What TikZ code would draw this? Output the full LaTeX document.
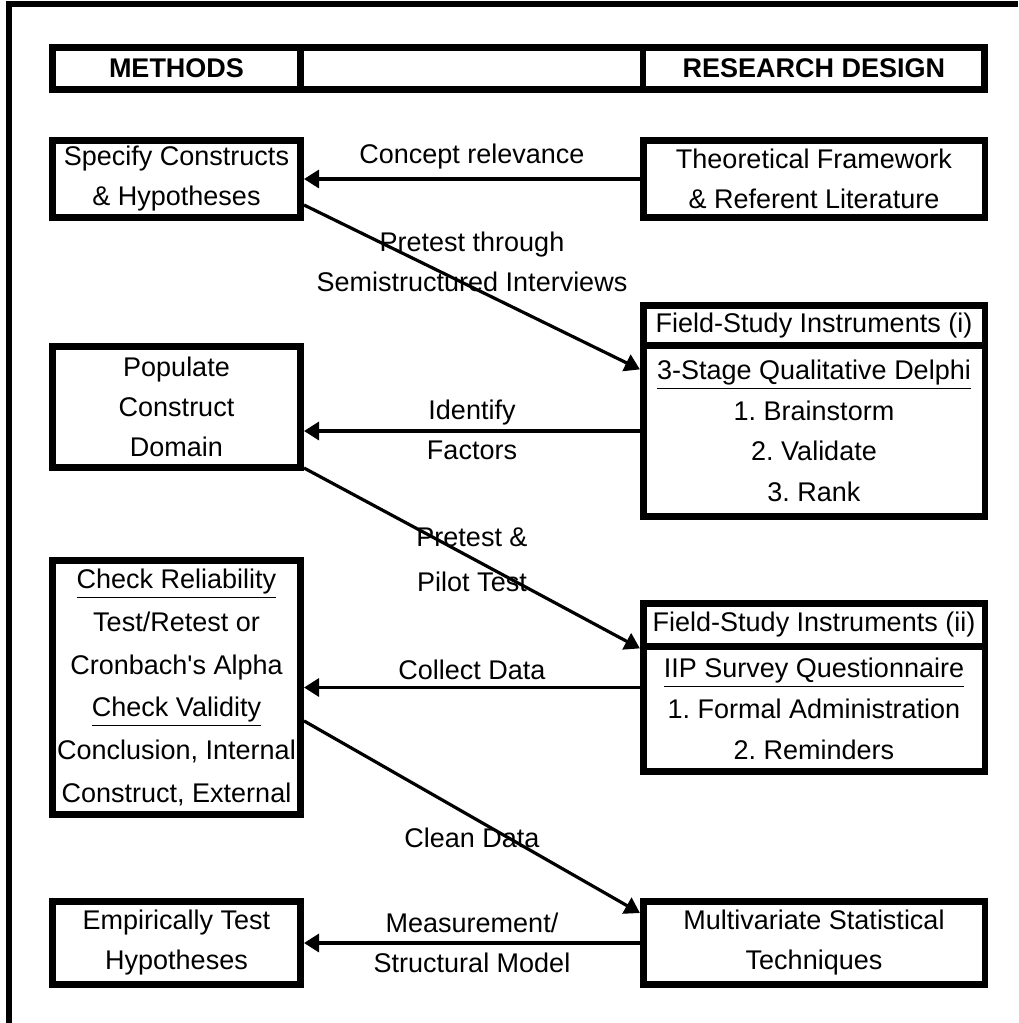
\documentclass[tikz,border=0pt]{standalone}
\usepackage{fontspec}
\setmainfont{Liberation Sans}
\newfontfamily\diagfont{Liberation Sans}
\usetikzlibrary{arrows.meta,positioning}

\tikzset{
	box/.style={draw, line width=3.3pt, align=center, inner sep=0pt, font=\diagfont\fontsize{13.5}{20}\selectfont},
	lbox/.style={box, minimum width=124.2pt},
	rbox/.style={box, minimum width=170.8pt},
	headcell/.style={font=\diagfont\fontsize{13.5}{20}\selectfont\bfseries},
	conn/.style={line width=1.6pt, -{Triangle[length=7.5pt,width=9pt]}},
	lbl/.style={align=center, inner sep=0pt, font=\diagfont\fontsize{13.5}{20}\selectfont},
}

\begin{document}
\frenchspacing
\begin{tikzpicture}[x=0.5pt,y=0.5pt,yscale=-1,xscale=1]
	\useasboundingbox (0,0) rectangle (1018,1023);
	
	%Outer frame (cut at right and bottom)
	\draw [line width=2.8pt] (1018,4) -- (9,4) -- (9,1023) ;
	
	%Header row
	\node [lbox, headcell, minimum height=21.2pt] (hmeth) at (176.5,68.5) {METHODS};
	\node [box, minimum width=171.2pt, minimum height=21.2pt, right=-3.3pt of hmeth] (hmid) {};
	\node [rbox, headcell, minimum height=21.2pt, right=-3.3pt of hmid] (hdesign) {RESEARCH DESIGN};
	
	%Methods column
	\node [lbox, minimum height=38.7pt] (spec) at (176.5,179) {Specify Constructs\\\& Hypotheses};
	\node [lbox, minimum height=60.7pt] (pop) at (176.5,407) {Populate\\Construct\\Domain};
	\node [lbox, minimum height=127.2pt, font=\diagfont\fontsize{13.5}{21.4}\selectfont] (check) at (176.5,687.5) {\underline{Check Reliability}\\Test/Retest or\\Cronbach's Alpha\\\underline{Check Validity}\\Conclusion, Internal\\Construct, External};
	\node [lbox, minimum height=41.7pt] (emp) at (176.5,943) {Empirically Test\\Hypotheses};
	
	%Research design column
	\node [rbox, minimum height=38.7pt] (theo) at (814,179) {Theoretical Framework\\\& Referent Literature};
	\node [rbox, minimum height=20.2pt] (fihead) at (814,325.5) {Field-Study Instruments (i)};
	\node [rbox, minimum height=85.3pt, below=-3.3pt of fihead, font=\diagfont\fontsize{13.5}{20.3}\selectfont] (fibody) {\underline{3-Stage Qualitative Delphi}\\1. Brainstorm\\2. Validate\\3. Rank};
	\node [rbox, minimum height=21.7pt] (fiihead) at (814,625) {Field-Study Instruments (ii)};
	\node [rbox, minimum height=62.5pt, below=-3.3pt of fiihead, font=\diagfont\fontsize{13.5}{20.5}\selectfont] (fiibody) {\underline{IIP Survey Questionnaire}\\1. Formal Administration\\2. Reminders};
	\node [rbox, minimum height=41.7pt] (mv) at (814,943) {Multivariate Statistical\\Techniques};
	
	%Connectors
	\draw [conn] (theo.west) -- (spec.east) ;
	\draw [conn] ([yshift=13pt]spec.east) -- ([yshift=13.5pt]fibody.north west) ;
	\draw [conn] (fibody.west) -- (fibody.west -| pop.east) ;
	\draw [conn] ([yshift=-1.5pt]pop.south east) -- ([yshift=2.5pt]fiibody.north west) ;
	\draw [conn] (fiibody.west |- check.east) -- (check.east) ;
	\draw [conn] ([yshift=16.7pt]check.east) -- ([yshift=7.5pt]mv.north west) ;
	\draw [conn] (mv.west) -- (emp.east) ;
	
	% Text Nodes
	\node [lbl] (lconcept) at (472,157) {Concept relevance};
	\node [lbl] (lpretest) at (472,262) {Pretest through\\Semistructured Interviews};
	\node [lbl] (lidentify) at (472,430) {Identify\\Factors};
	\node [lbl, font=\diagfont\fontsize{13.5}{22.5}\selectfont] (lpilot) at (472,560) {Pretest \&\\Pilot Test};
	\node [lbl] (lcollect) at (472,670) {Collect Data};
	\node [lbl] (lclean) at (472,838) {Clean Data};
	\node [lbl] (lmeasure) at (472,943) {Measurement/\\Structural Model};
	
\end{tikzpicture}
\end{document}
